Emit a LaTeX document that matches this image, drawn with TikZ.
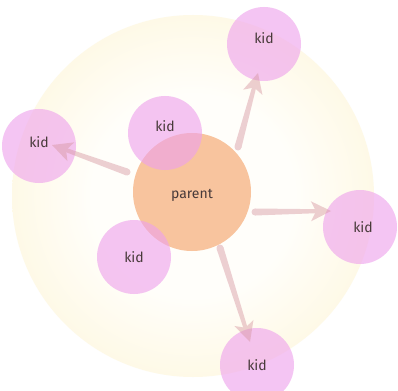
\documentclass[tikz,border=0pt]{standalone}
\usepackage{fontspec}
\setmainfont{Fira Sans}
\usetikzlibrary{calc}
\definecolor{haloY}{RGB}{251,238,195}
\definecolor{haloM}{RGB}{254,247,222}
\definecolor{haloW}{RGB}{255,254,250}
\definecolor{kidpink}{RGB}{238,162,236}
\definecolor{parorange}{RGB}{248,196,158}
\definecolor{arrcol}{RGB}{215,150,160}
\definecolor{txt}{RGB}{72,58,58}
\pgfdeclareradialshading{halo}{\pgfpoint{0bp}{0bp}}{color(0bp)=(haloW); color(14bp)=(haloW); color(30bp)=(haloM); color(43bp)=(haloY); color(50bp)=(haloY)}
\newcommand\taparrow[2]{%
  \begin{scope}[transparency group, opacity=0.45]
    \coordinate (h) at ($(#2)!14pt!(#1)$);
    \fill[arrcol] ($(#1)!3.5pt!90:(#2)$) -- ($(h)!2pt!-90:(#1)$) -- ($(h)!2pt!90:(#1)$) -- ($(#1)!3.5pt!-90:(#2)$) -- cycle;
    \fill[arrcol] (#1) circle[radius=3.5pt];
    \fill[arrcol] (#2) -- ($(#2)!22.4pt!26.6:(#1)$) -- ($(#2)!15pt!(#1)$) -- ($(#2)!22.4pt!-26.6:(#1)$) -- cycle;
  \end{scope}}
\begin{document}
\begin{tikzpicture}[x=1pt,y=-1pt,
  kidtext/.style={text=txt, font=\fontsize{14}{14}\selectfont, inner sep=0pt},
  kid/.style={circle, fill=kidpink, fill opacity=0.62, minimum size=74pt, inner sep=0pt},
  parentbox/.style={circle, fill=parorange, minimum size=118pt, inner sep=0pt}]
\clip (0,0) rectangle (398,390);
\fill[white] (0,0) rectangle (398,390);
\shade[shading=halo] (193,196) circle[radius=181];
\node[parentbox, label={[kidtext,yshift=-3pt]center:parent}] (parent) at (192,192) {};
\node[kid, label={[kidtext,yshift=6pt]center:kid}] (kTR) at (264,44) {};
\node[kid, label={[kidtext,yshift=7pt]center:kid}] (kIn1) at (165,133) {};
\node[kid, label={[kidtext,yshift=4pt]center:kid}] (kL) at (39,146) {};
\node[kid, label={[kidtext,xshift=3pt]center:kid}] (kR) at (360,227) {};
\node[kid, label={[kidtext]center:kid}] (kIn2) at (134,257) {};
\node[kid, label={[kidtext]center:kid}] (kB) at (257,365) {};
\coordinate (s1) at ($(parent)+(46,-45)$);
\coordinate (e1) at ($(kTR)+(-6,29)$);
\coordinate (s2) at ($(parent)+(-65,-20)$);
\coordinate (e2) at ($(kL)+(13,-1)$);
\coordinate (s3) at ($(parent)+(63,20)$);
\coordinate (e3) at ($(kR)+(-29,-16)$);
\coordinate (s4) at ($(parent)+(28,56)$);
\coordinate (e4) at ($(kB)+(-7,-23)$);
\taparrow{s1}{e1}
\taparrow{s2}{e2}
\taparrow{s3}{e3}
\taparrow{s4}{e4}
\end{tikzpicture}
\end{document}
